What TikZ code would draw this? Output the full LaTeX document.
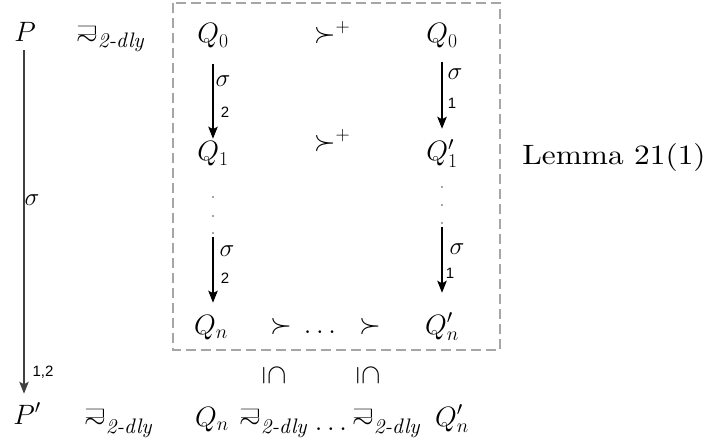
\RequirePackage{fix-cm}
\documentclass[tikz,border=0pt]{standalone}
\usepackage{amsmath,amssymb}
\usepackage{fontspec}
\setmainfont{lmroman10-regular.otf}[ItalicFont=lmroman10-italic.otf, BoldFont=lmroman10-bold.otf]
\usepackage{graphicx}
\usetikzlibrary{arrows.meta}
\newfontfamily\arialf{Liberation Sans}
\newcommand{\sqrelsym}{\mathrel{\vcenter{\offinterlineskip\halign{\hfil##\hfil\cr\scalebox{1}[0.55]{$\sqsupset$}\cr\noalign{\kern0.6pt}$\sim$\cr}}}}
\newcommand{\dlytext}{\hbox{\fontsize{21}{24}\selectfont\itshape 2-dly}}
\newcommand{\dly}{\sqrelsym_{\dlytext}}
\newcommand{\dlyb}{\sqrelsym_{\lower3pt\dlytext}}
\begin{document}
\begin{tikzpicture}[x=1pt,y=-1pt,
  every node/.style={inner sep=0pt, font=\fontsize{28}{32}\selectfont},
  lab/.style={font=\fontsize{25}{28}\selectfont},
  num/.style={font=\arialf\fontsize{15}{17}\selectfont},
  arr/.style={line width=1.2pt, -{Stealth[length=12pt,width=9.5pt,inset=2.5pt]}},
  framebox/.style={draw=black!35, line width=2pt, dash pattern=on 10pt off 5pt},
  dotn/.style={circle, fill=black!70, inner sep=0pt, minimum size=1.7pt}]
\useasboundingbox (0,0) rectangle (706,446);
\draw[framebox] (173,3) rectangle (500,350);
% row 1
\node[anchor=base] (P) at (25,42) {$P$};
\node[anchor=base west] (r0) at (76,43) {$\dly$};
\node[anchor=base] (Q0) at (213,43) {$Q_0$};
\node[anchor=base] (s1) at (332,43) {$\succ^{+}$};
\node[anchor=base] (Q0r) at (442,43) {$Q_0$};
% row 2
\node[anchor=base] (Q1) at (213,161) {$Q_1$};
\node[anchor=base] (s2) at (332,151) {$\succ^{+}$};
\node[anchor=base] (Q1r) at (442,161) {$Q_1'$};
\node[anchor=base] (lem) at (614,165) {\scalebox{1.12}[1]{Lemma 21(1)}};
% dots
\node[dotn] (dl1) at (213,197) {};
\node[dotn] (dl2) at (213,216) {};
\node[dotn] (dl3) at (213,233) {};
\node[dotn] (dr1) at (442,187) {};
\node[dotn] (dr2) at (442,205) {};
\node[dotn] (dr3) at (442,223) {};
% row 3
\node[anchor=base] (Qn) at (211,334) {$Q_n$};
\node[anchor=base] (sa) at (281,333) {$\succ$};
\node[anchor=base] (el) at (320,333) {$\ldots$};
\node[anchor=base] (sb) at (370,333) {$\succ$};
\node[anchor=base] (Qnr) at (442,334) {$Q_n'$};
% subset symbols
\node (in1) at (274,375) {\rotatebox{-90}{$\subseteq$}};
\node (in2) at (368,375) {\rotatebox{-90}{$\subseteq$}};
% bottom row
\node[anchor=base] (Pp) at (27,424) {$P'$};
\node[anchor=base west] (b0) at (84,426) {$\dlyb$};
\node[anchor=base] (Qnb) at (212,426) {$Q_n$};
\node[anchor=base west] (b1) at (239,426) {$\dlyb$};
\node[anchor=base] (el2) at (331,430) {$\ldots$};
\node[anchor=base west] (b2) at (352,426) {$\dlyb$};
\node[anchor=base] (Qnbr) at (452,426) {$Q_n'$};
% arrows
\draw[arr, draw=black!75] ([xshift=-1pt,yshift=-8pt]P.south) -- ([xshift=-1pt,yshift=9pt]P.south |- Pp.north);
\draw[arr] ([yshift=-15pt]Q0.south) -- ([yshift=3pt]Q0.south |- Q1.north);
\draw[arr] ([yshift=-13pt]Q0r.south) -- ([yshift=11pt]Q0r.south |- Q1r.north);
\draw[arr] ([yshift=-3pt]dl3.south) -- ([yshift=12pt]dl3.south |- Qn.north);
\draw[arr] ([yshift=-3pt]dr3.south) -- ([yshift=20pt]dr3.south |- Qnr.north);
% labels
\node[lab] (l1) at (223,81) {$\sigma$};
\node[num] (n1) at (225,112) {2};
\node[lab] (l2) at (455,74) {$\sigma$};
\node[num] (n2) at (452,103) {1};
\node[lab] (l3) at (227,251) {$\sigma$};
\node[num] (n3) at (225,278) {2};
\node[lab] (l4) at (457,249) {$\sigma$};
\node[num] (n4) at (450,273) {1};
\node[lab] (l5) at (32,200) {$\sigma$};
\node[num] (n5) at (43,372) {1,2};
\end{tikzpicture}
\end{document}
